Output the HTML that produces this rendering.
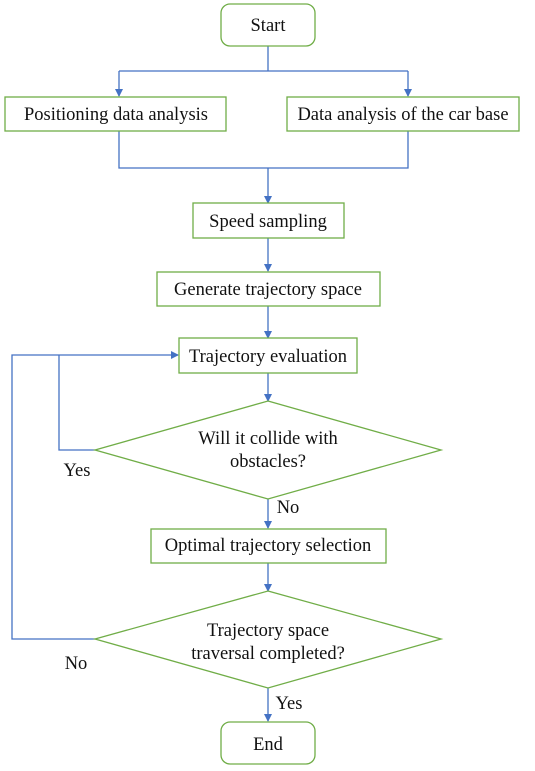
<!DOCTYPE html>
<html><head><meta charset="utf-8"><style>
html,body{margin:0;padding:0;background:#fff;}
svg{display:block}
text{font-family:"Liberation Serif",serif;font-size:18.5px;fill:#111;text-anchor:middle}
</style></head><body>
<svg width="535" height="771" viewBox="0 0 535 771">
<defs><marker id="a" markerWidth="8" markerHeight="8" refX="7" refY="4" orient="auto" markerUnits="userSpaceOnUse"><path d="M0,0 L8,4 L0,8 z" fill="#4472c4"/></marker></defs>
<g fill="none" stroke="#4472c4" stroke-width="1.3">
<path d="M268,46 V71"/><path d="M119,71 H408"/>
<path d="M119,71 V96" marker-end="url(#a)"/><path d="M408,71 V96" marker-end="url(#a)"/>
<path d="M119,131 V168 H408 V131"/><path d="M268,168 V203" marker-end="url(#a)"/>
<path d="M268,238 V271" marker-end="url(#a)"/>
<path d="M268,306 V338" marker-end="url(#a)"/>
<path d="M268,373 V401" marker-end="url(#a)"/>
<path d="M268,499 V528" marker-end="url(#a)"/>
<path d="M268,563 V591" marker-end="url(#a)"/>
<path d="M268,688 V721" marker-end="url(#a)"/>
<path d="M95,450 H59 V355"/>
<path d="M95,639 H12 V355 H178" marker-end="url(#a)"/>
</g>
<g fill="#fff" stroke="#70ad47" stroke-width="1.3">
<rect x="221" y="4" width="94" height="42" rx="9"/>
<rect x="5" y="97" width="221" height="34"/>
<rect x="287" y="97" width="232" height="34"/>
<rect x="193" y="203" width="151" height="35"/>
<rect x="157" y="272" width="223" height="34"/>
<rect x="179" y="338" width="178" height="35"/>
<polygon points="268,401 441,450 268,499 95,450"/>
<rect x="151" y="529" width="235" height="34"/>
<polygon points="268,591 441,639 268,688 95,639"/>
<rect x="221" y="722" width="94" height="42" rx="9"/>
</g>
<text x="268" y="31">Start</text>
<text x="116" y="120">Positioning data analysis</text>
<text x="403" y="120">Data analysis of the car base</text>
<text x="268" y="227">Speed sampling</text>
<text x="268" y="295">Generate trajectory space</text>
<text x="268" y="362">Trajectory evaluation</text>
<text x="268" y="444">Will it collide with</text>
<text x="268" y="467">obstacles?</text>
<text x="268" y="551">Optimal trajectory selection</text>
<text x="268" y="636">Trajectory space</text>
<text x="268" y="659">traversal completed?</text>
<text x="268" y="750">End</text>
<text x="77" y="476">Yes</text>
<text x="288" y="513">No</text>
<text x="76" y="669">No</text>
<text x="289" y="709">Yes</text>
</svg>
</body></html>
